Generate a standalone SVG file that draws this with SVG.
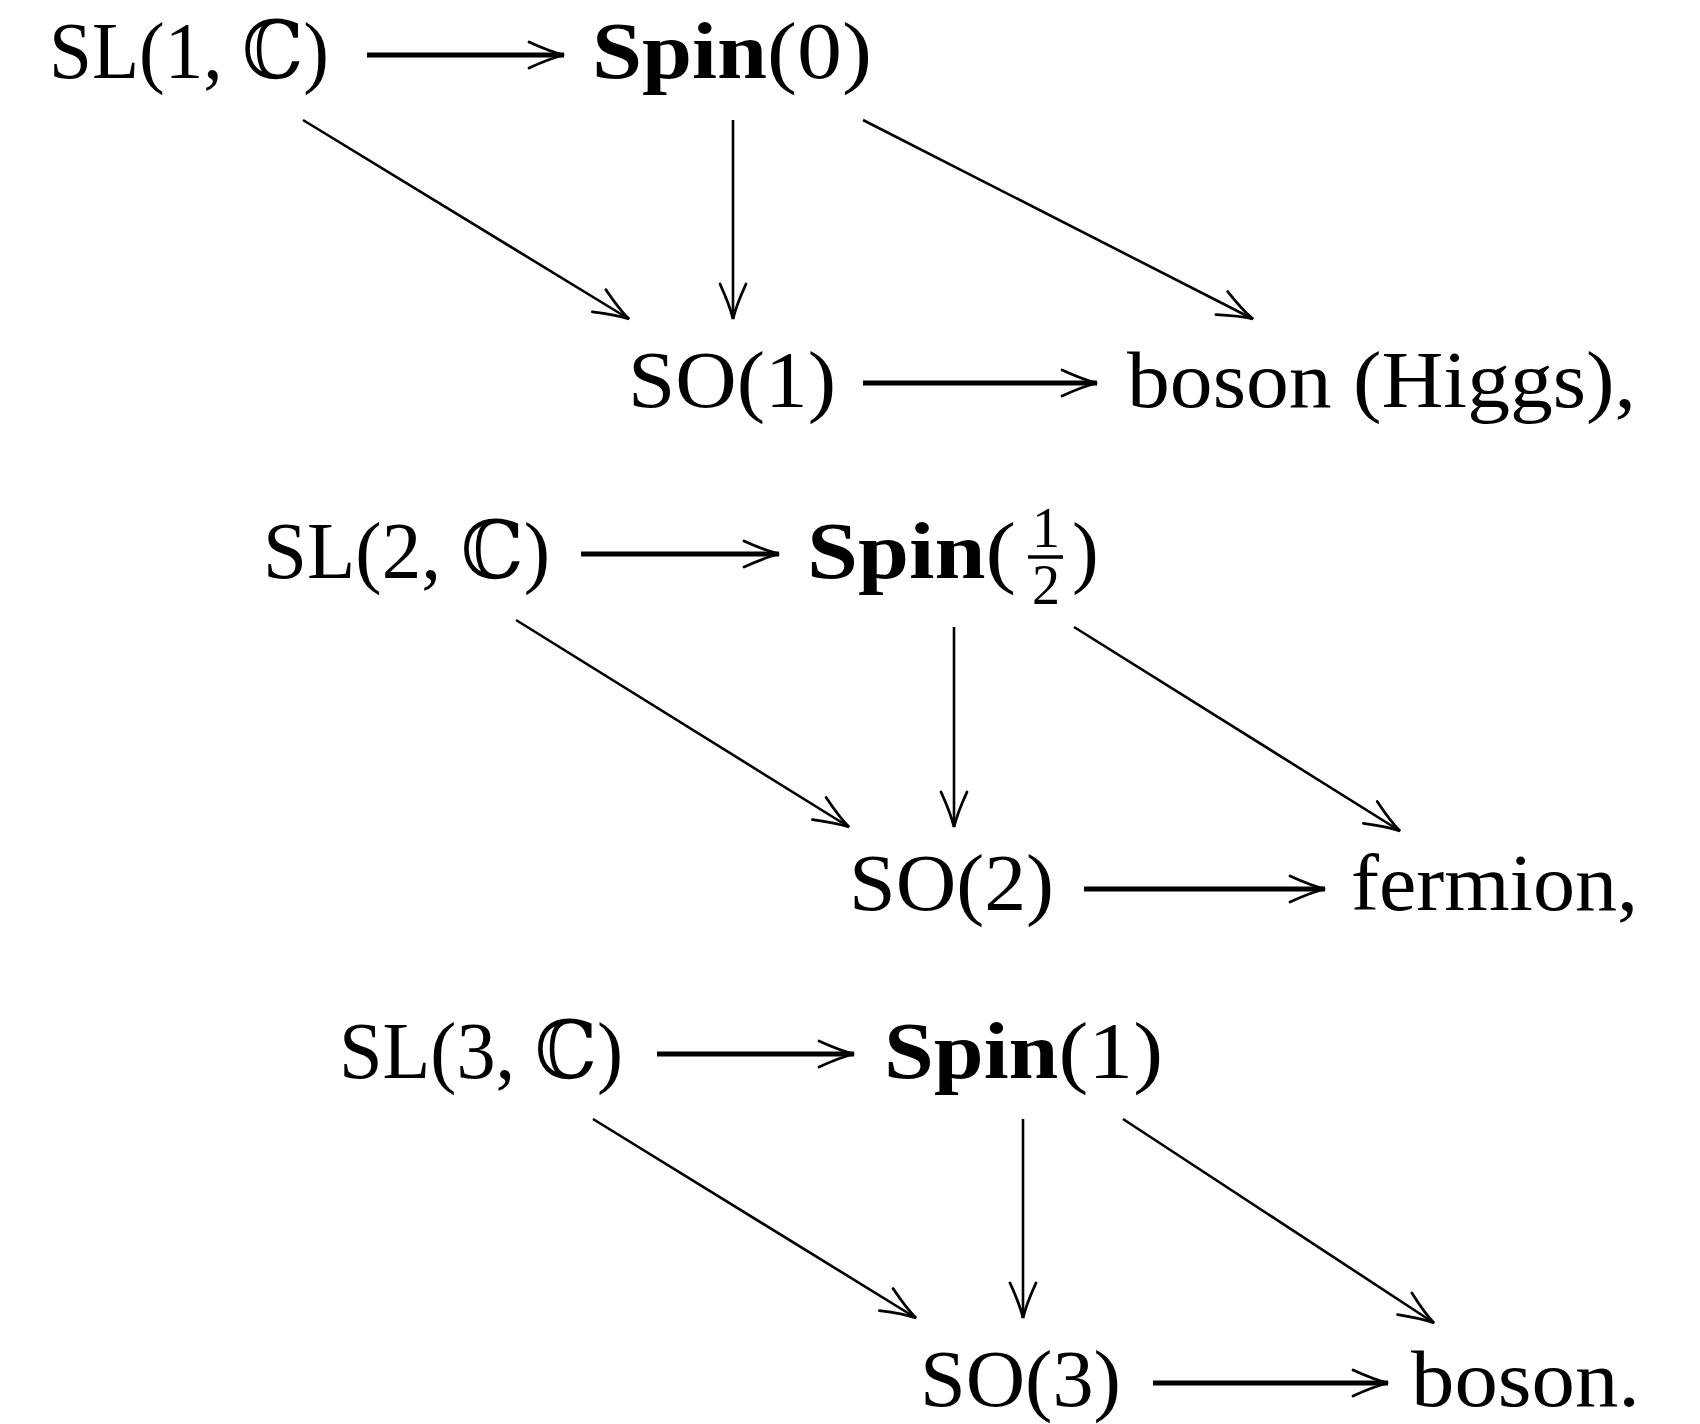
<svg xmlns="http://www.w3.org/2000/svg" width="1700" height="1424" viewBox="0 0 1700 1424">
<style>
  text { font-family: "Liberation Serif", "DejaVu Serif", serif; font-size: 80px; fill: #000; }
  .b { font-weight: bold; }
  .frac { font-family: "Liberation Serif", "DejaVu Serif", serif; font-size: 56px; }
  .thin { stroke: #000; stroke-width: 2.6; fill: none; marker-end: url(#head); }
  .thick { stroke: #000; stroke-width: 5.2; fill: none; marker-end: url(#head); }
</style>
<defs>
  <marker id="head" markerUnits="userSpaceOnUse" markerWidth="10" markerHeight="10" refX="0" refY="0" orient="auto" overflow="visible">
    <path d="M-35,-13 Q-13,-3 0,0 Q-13,3 -35,13" fill="none" stroke="#000" stroke-width="2.8" stroke-linecap="round"/>
  </marker>
</defs>
<rect width="1700" height="1424" fill="#fff"/>

<g id="connectors">
  <!-- row 1 -->
  <line class="thick" x1="367" y1="55" x2="564" y2="55"/>
  <line class="thin" x1="303" y1="120" x2="629" y2="319"/>
  <line class="thin" x1="733" y1="120" x2="733" y2="319"/>
  <line class="thin" x1="863" y1="120" x2="1253" y2="319"/>
  <line class="thick" x1="863" y1="383" x2="1097" y2="383"/>
  <!-- row 2 -->
  <line class="thick" x1="581" y1="554" x2="779" y2="554"/>
  <line class="thin" x1="516" y1="620" x2="849" y2="827"/>
  <line class="thin" x1="954" y1="627" x2="954" y2="827"/>
  <line class="thin" x1="1074" y1="627" x2="1400" y2="831"/>
  <line class="thick" x1="1084" y1="889" x2="1325" y2="889"/>
  <!-- row 3 -->
  <line class="thick" x1="657" y1="1054" x2="854" y2="1054"/>
  <line class="thin" x1="593" y1="1119" x2="916" y2="1318"/>
  <line class="thin" x1="1023" y1="1119" x2="1023" y2="1318"/>
  <line class="thin" x1="1123" y1="1119" x2="1434" y2="1323"/>
  <line class="thick" x1="1153" y1="1383" x2="1388" y2="1383"/>
</g>

<g id="sl1"><text x="49" y="78" textLength="280" lengthAdjust="spacingAndGlyphs">SL(1, ℂ)</text></g>
<g id="spin0"><text x="592" y="78" textLength="280" lengthAdjust="spacingAndGlyphs"><tspan class="b">Spin</tspan>(0)</text></g>
<g id="so1"><text x="628" y="407" textLength="208" lengthAdjust="spacingAndGlyphs">SO(1)</text></g>
<g id="higgs"><text x="1127" y="407" textLength="509" lengthAdjust="spacingAndGlyphs">boson (Higgs),</text></g>

<g id="sl2"><text x="263" y="578" textLength="287" lengthAdjust="spacingAndGlyphs">SL(2, ℂ)</text></g>
<g id="spinhalf">
  <text x="807" y="578" textLength="209" lengthAdjust="spacingAndGlyphs"><tspan class="b">Spin</tspan>(</text>
  <text class="frac" text-anchor="middle"><tspan x="1046" y="547">1</tspan><tspan x="1046" y="604">2</tspan></text>
  <line x1="1028" y1="557" x2="1063" y2="557" stroke="#000" stroke-width="3.4"/>
  <text x="1072" y="578">)</text>
</g>
<g id="so2"><text x="849" y="910" textLength="205" lengthAdjust="spacingAndGlyphs">SO(2)</text></g>
<g id="fermion"><text x="1351" y="910" textLength="287" lengthAdjust="spacingAndGlyphs">fermion,</text></g>

<g id="sl3"><text x="339" y="1078" textLength="284" lengthAdjust="spacingAndGlyphs">SL(3, ℂ)</text></g>
<g id="spin1"><text x="884" y="1078" textLength="279" lengthAdjust="spacingAndGlyphs"><tspan class="b">Spin</tspan>(1)</text></g>
<g id="so3"><text x="920" y="1406" textLength="201" lengthAdjust="spacingAndGlyphs">SO(3)</text></g>
<g id="boson"><text x="1411" y="1406" textLength="229" lengthAdjust="spacingAndGlyphs">boson.</text></g>
</svg>
